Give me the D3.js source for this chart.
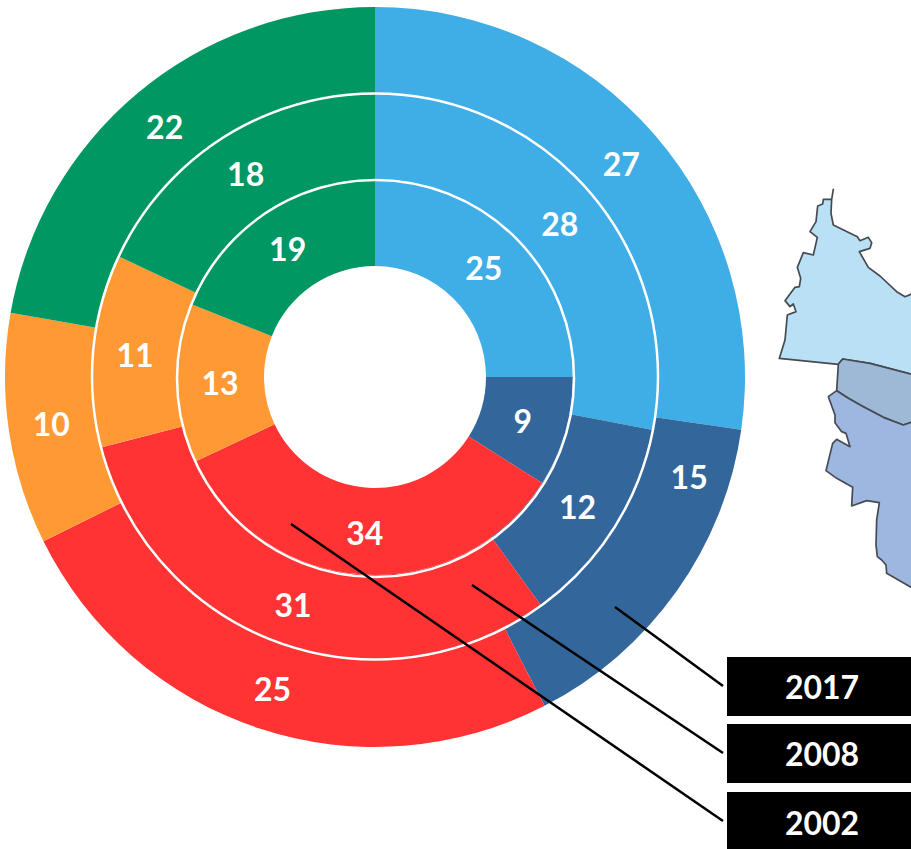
<!DOCTYPE html>
<html><head><meta charset="utf-8">
<script src="https://cdn.jsdelivr.net/npm/d3@7"></script>
<style>html,body{margin:0;padding:0;background:#fff;overflow:hidden}svg{display:block}</style>
</head><body><svg id="c" width="911" height="849"></svg>
<script>
const categories = ["Blue","Dark blue","Red","Orange","Green"];
const colors = ["#3FADE6","#33669A","#FF3333","#FF9933","#009762"];
const values2002 = [25,9,34,13,19];
const values2008 = [28,12,31,11,18];
const values2017 = [27,15,25,10,22];
const years = ["2017","2008","2002"];
const ringSeries = [values2002,values2008,values2017];
const leaderStarts = [[615,607],[472,585],[291,524]];
const regionA = [[190,28],[185,58],[160,58],[158,72],[143,78],[138,125],[120,155],[142,172],[130,225],[100,218],[82,262],[92,295],[88,320],[75,322],[45,362],[60,380],[70,372],[78,395],[52,405],[45,480],[28,535],[205,553],[218,537],[300,550],[430,584],[430,340],[405,350],[380,335],[330,288],[295,262],[268,215],[300,205],[305,188],[295,172],[270,182],[262,170],[190,135],[183,100],[185,58]];
const regionB = [[218,537],[300,550],[430,584],[430,725],[400,735],[340,712],[280,680],[235,655],[200,632],[205,553]];
const regionC = [[200,632],[175,650],[195,705],[195,728],[215,755],[228,760],[240,800],[200,778],[188,790],[168,872],[200,895],[248,922],[245,978],[290,962],[328,968],[320,1020],[318,1095],[322,1130],[335,1140],[348,1155],[350,1180],[430,1226],[430,725],[400,735],[340,712],[280,680],[235,655]];
const regionFills = ["#BAE0F5","#9DB9D6","#9DB7E0"];
const regions = [regionA,regionB,regionC];

const svg = d3.select("#c");
const font = "Lato, 'Open Sans', sans-serif";
const cx = 375, cy = 377;
const ringEdges = [111,198,283,370];
const pie = d3.pie().sort(null).value(d=>d);

// map
const mx = d3.scaleLinear().domain([0,423]).range([770,911]);
const my = d3.scaleLinear().domain([0,1260]).range([180,600]);
const mapLine = d3.line().x(d=>mx(d[0])).y(d=>my(d[1]));
svg.append("g").selectAll("path").data(regions).join("path")
  .attr("d",d=>mapLine(d)+"Z").attr("fill",(d,i)=>regionFills[i])
  .attr("stroke","#454b52").attr("stroke-width",1.7).attr("stroke-linejoin","round");

// rings
const g = svg.append("g").attr("transform",`translate(${cx},${cy})`);
ringSeries.forEach((vals,i)=>{
  const arc = d3.arc().innerRadius(ringEdges[i]).outerRadius(ringEdges[i+1]);
  const arcs = pie(vals);
  const ring = g.append("g");
  ring.selectAll("path").data(arcs).join("path").attr("d",arc)
    .attr("fill",(d,j)=>colors[j]);
  const pos = (d,j)=>{
    // the 2017 "15" label sits nearer the top of its slice
    if (i===2 && j===1) {
      const c = arc.centroid({startAngle:d.startAngle,endAngle:d.startAngle+0.32});
      return [c[0]+3, c[1]+1];
    }
    return arc.centroid(d);
  };
  // labels sit slightly lower in the lower half of the chart
  const lift = [1.5,2,2.5,1.5,0.7];
  ring.selectAll("text").data(arcs).join("text")
    .attr("transform",(d,j)=>{const p=pos(d,j);return `translate(${p[0]-0.5},${p[1]+lift[j]})`;})
    .attr("text-anchor","middle").attr("dy","0.35em")
    .attr("font-family",font).attr("font-weight",700).attr("font-size",32)
    .attr("fill","#fff").text(d=>d.value);
});
// white ring outlines
g.append("circle").attr("cx",0.5).attr("cy",1.5).attr("r",198.5)
  .attr("fill","none").attr("stroke","#fff").attr("stroke-width",2.5);
g.append("circle").attr("cx",0).attr("cy",-0.5).attr("r",283)
  .attr("fill","none").attr("stroke","#fff").attr("stroke-width",2.5);

// year boxes
const boxTops = [657,724,792];
const boxHeights = [59,59,62];
const boxes = svg.append("g").selectAll("g").data(years).join("g")
  .attr("transform",(d,i)=>`translate(727,${boxTops[i]})`);
boxes.append("rect").attr("width",190).attr("height",(d,i)=>boxHeights[i]).attr("fill","#000");
boxes.append("text").attr("x",95).attr("y",(d,i)=>boxHeights[i]/2+0.7).attr("dy","0.36em").attr("text-anchor","middle")
  .attr("font-family",font).attr("font-weight",700).attr("font-size",32).attr("fill","#fff").text(d=>d);

// leaders
const leaderEnds = [686,753,821];
svg.append("g").selectAll("line").data(years).join("line")
  .attr("x1",(d,i)=>leaderStarts[i][0]).attr("y1",(d,i)=>leaderStarts[i][1])
  .attr("x2",723).attr("y2",(d,i)=>leaderEnds[i])
  .attr("stroke","#000").attr("stroke-width",2.5);
</script></body></html>
